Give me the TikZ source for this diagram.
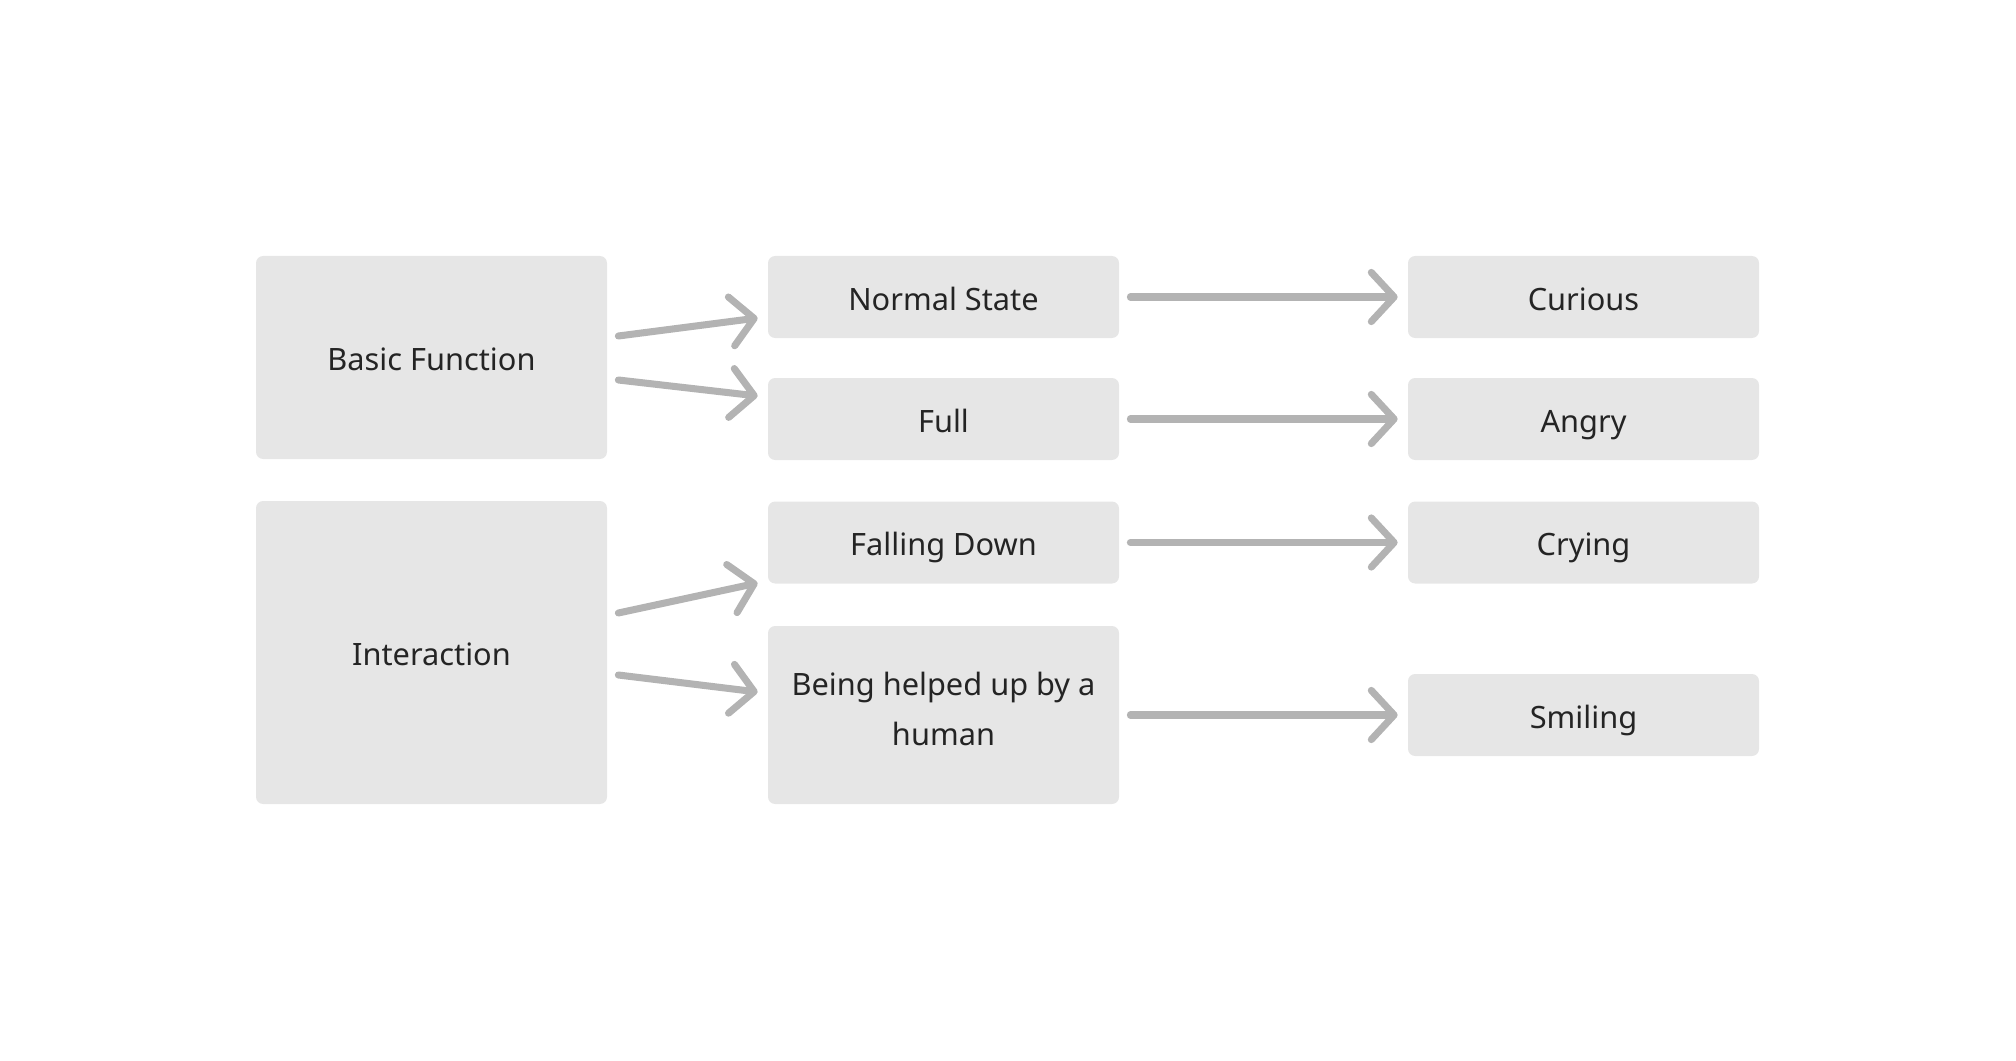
\documentclass[tikz,border=0pt]{standalone}
\usepackage{fontspec}
\setmainfont{Noto Sans}
\usepackage{tikz}
\usetikzlibrary{arrows.meta, calc}

\definecolor{boxgray}{HTML}{E6E6E6}
\definecolor{linkgray}{HTML}{B3B3B3}
\definecolor{textgray}{HTML}{242424}

\newcommand{\statestrut}{\rule[-7pt]{0pt}{29pt}}

\tikzset{
  state/.style={fill=boxgray, rounded corners=4pt, minimum width=7.02cm,
    minimum height=1.64cm, text=textgray, font=\fontsize{17.5}{28.5}\selectfont,
    align=center, inner sep=0pt, execute at begin node=\statestrut},
  link/.style={linkgray, line width=4pt, line cap=round,
    -{Straight Barb[length=13pt, width=28pt, round]}}
}

\begin{document}
\begin{tikzpicture}

% Page frame
\useasboundingbox (0,0) rectangle (40.32,-21.22);

% Left column
\node[state, minimum height=4.06cm] (basic) at (8.63,-7.15) {Basic Function};
\node[state, minimum height=6.06cm] (interaction) at (8.63,-13.05) {Interaction};

% Middle column
\node[state] (normal) at (18.87,-5.94) {Normal State};
\node[state] (full) at (18.87,-8.38) {Full};
\node[state] (falling) at (18.87,-10.85) {Falling Down};
\node[state, minimum height=3.56cm] (helped) at (18.87,-14.30) {Being helped up by a\\human};

% Right column
\node[state] (curious) at (31.67,-5.94) {Curious};
\node[state] (angry) at (31.67,-8.38) {Angry};
\node[state] (crying) at (31.67,-10.85) {Crying};
\node[state] (smiling) at (31.67,-14.30) {Smiling};

% Links from the left boxes
\draw[link] ($(basic.east)+(0.22,0.43)$) -- ($(normal.west)+(-0.2,-0.42)$);
\draw[link] ($(basic.east)+(0.22,-0.45)$) -- ($(full.west)+(-0.2,0.46)$);
\draw[link] ($(interaction.east)+(0.22,0.79)$) -- ($(falling.west)+(-0.2,-0.81)$);
\draw[link] ($(interaction.east)+(0.22,-0.45)$) -- ($(helped.west)+(-0.2,0.46)$);

% Links to the right boxes
\foreach \from/\to in {normal/curious, full/angry, falling/crying, helped/smiling}
  \draw[link] ($(\from.east)+(0.22,0)$) -- ($(\to.west)+(-0.2,0)$);

\end{tikzpicture}
\end{document}
